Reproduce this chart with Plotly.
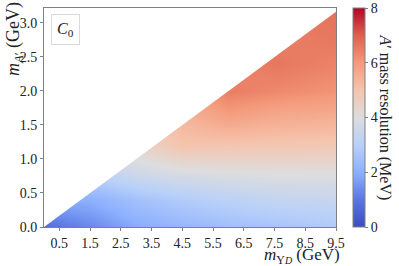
import plotly.graph_objects as go

# ---- data ----
# grid knots (GeV)
m_upsilon_knots = [0.0, 1.5, 3.0, 4.5, 6.0, 7.5, 9.5]
m_aprime_knots = [0.0, 0.4, 0.8, 1.2, 1.6, 2.0, 2.4, 2.8, 3.2]
N = None
# A' mass resolution (MeV), rows = m_A' knots, cols = m_Upsilon_D knots
resolution = [
    [0.8, 1.3, 1.9, 2.2, 2.45, 2.6, 2.8],
    [N,   2.0, 2.5, 2.85, 3.1, 3.3, 3.4],
    [N,   N,   3.6, 3.85, 3.95, 4.0, 4.0],
    [N,   N,   N,   5.0, 4.95, 4.9, 4.85],
    [N,   N,   N,   N,   5.8, 5.6, 5.5],
    [N,   N,   N,   N,   6.5, 6.3, 6.1],
    [N,   N,   N,   N,   N,   6.6, 6.4],
    [N,   N,   N,   N,   N,   N,   6.6],
    [N,   N,   N,   N,   N,   N,   6.7],
]
x_tickvals = [0.5, 1.5, 2.5, 3.5, 4.5, 5.5, 6.5, 7.5, 8.5, 9.5]
y_tickvals = [0.0, 0.5, 1.0, 1.5, 2.0, 2.5, 3.0]
cbar_ticks = [0, 2, 4, 6, 8]
X_MAX = 9.5
Y_MAX = 3.22
KIN_RATIO = 3.0  # kinematic limit m_A' < m_Upsilon_D / 3

coolwarm = [
    [0.0, "rgb(59,76,192)"],
    [0.125, "rgb(89,119,227)"],
    [0.25, "rgb(141,176,254)"],
    [0.375, "rgb(184,208,249)"],
    [0.5, "rgb(221,221,221)"],
    [0.625, "rgb(245,196,173)"],
    [0.75, "rgb(244,154,123)"],
    [0.875, "rgb(222,96,77)"],
    [1.0, "rgb(180,4,38)"],
]

FONT = "Liberation Serif"
AXC = "#808080"

fig = go.Figure()
fig.add_trace(go.Heatmap(
    x=m_upsilon_knots, y=m_aprime_knots, z=resolution,
    zsmooth="best", connectgaps=True,
    colorscale=coolwarm, zmin=0, zmax=8,
    colorbar=dict(
        thickness=12, len=1.0, lenmode="fraction", y=0.5, yanchor="middle",
        ypad=0, xpad=0,
        x=1.058, xanchor="left",
        outlinewidth=1, outlinecolor=AXC,
        tickvals=cbar_ticks, ticks="outside", ticklen=3, tickcolor=AXC,
        tickfont=dict(family=FONT, size=14, color="#222"),
    ),
    hoverinfo="skip",
))
# white mask above kinematic limit
fig.add_trace(go.Scatter(
    x=[0, X_MAX, X_MAX + 0.5, X_MAX + 0.5, 0],
    y=[0, X_MAX / KIN_RATIO, (X_MAX + 0.5) / KIN_RATIO, Y_MAX + 0.5, Y_MAX + 0.5],
    fill="toself", fillcolor="white", mode="none",
    showlegend=False, hoverinfo="skip",
))

fig.update_xaxes(
    range=[0, X_MAX], tickvals=x_tickvals, tickformat=".1f", automargin=False,
    showline=True, mirror=True, linecolor=AXC, linewidth=1,
    ticks="outside", ticklen=3, tickcolor=AXC, showgrid=False, zeroline=False,
    tickfont=dict(family=FONT, size=14, color="#222"),
)
fig.update_yaxes(
    range=[0, Y_MAX], tickvals=y_tickvals, tickformat=".1f", automargin=False,
    showline=True, mirror=True, linecolor=AXC, linewidth=1,
    ticks="outside", ticklen=3, tickcolor=AXC, showgrid=False, zeroline=False,
    tickfont=dict(family=FONT, size=14, color="#222"),
)

fig.update_layout(
    width=399, height=266,
    margin=dict(l=44, r=63, t=8, b=39, autoexpand=False),
    plot_bgcolor="white", paper_bgcolor="white",
    showlegend=False,
    font=dict(family=FONT, color="#222"),
    annotations=[
        dict(text="<i>m</i><sub><i>A</i>′</sub> (GeV)", textangle=-90,
             xref="paper", yref="paper", x=-0.099, y=1.037,
             xanchor="center", yanchor="top", showarrow=False,
             font=dict(family=FONT, size=18)),
        dict(text="<i>m</i><sub>Υ</sub><sub><span style='font-size:10px'><i>D</i></span></sub> (GeV)",
             xref="paper", yref="paper", x=1.02, y=-0.132,
             xanchor="right", yanchor="middle", showarrow=False,
             font=dict(family=FONT, size=17)),
        dict(text="<i>A</i>′ mass resolution (MeV)", textangle=90,
             xref="paper", yref="paper", x=1.168, y=0.5,
             xanchor="center", yanchor="middle", showarrow=False,
             font=dict(family=FONT, size=16)),
        dict(text="<i>C</i><sub>0</sub>",
             xref="paper", yref="paper", x=0.074, y=0.904,
             xanchor="center", yanchor="middle", showarrow=False,
             bordercolor="#d9d9d9", borderwidth=1, borderpad=5, bgcolor="white",
             font=dict(family=FONT, size=16)),
    ],
)

fig.write_html(
    "out.html",
    config={"displayModeBar": False},
    post_script="document.body.style.margin='0';document.body.style.padding='0';",
)
